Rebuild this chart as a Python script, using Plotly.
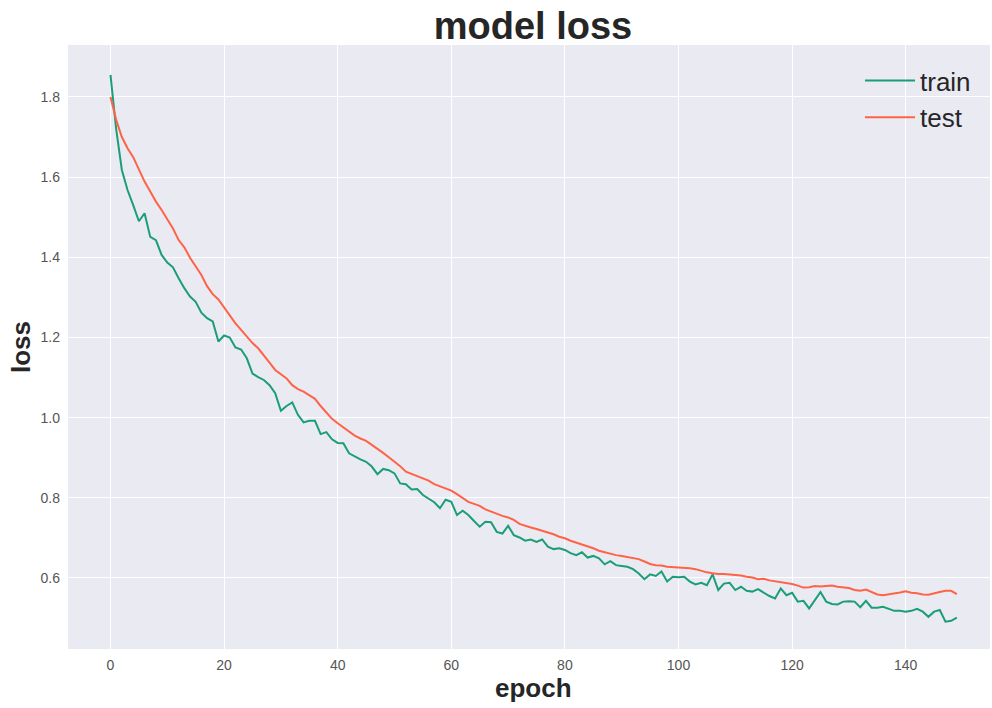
import plotly.graph_objects as go

epochs = list(range(150))

train_loss = [
    1.855, 1.720, 1.618, 1.568, 1.530, 1.490, 1.510, 1.451, 1.443, 1.406,
    1.387, 1.375, 1.348, 1.323, 1.302, 1.289, 1.262, 1.248, 1.240, 1.190,
    1.205, 1.200, 1.175, 1.170, 1.148, 1.110, 1.101, 1.094, 1.081, 1.061,
    1.017, 1.029, 1.038, 1.007, 0.988, 0.992, 0.992, 0.959, 0.964, 0.946,
    0.937, 0.936, 0.911, 0.903, 0.896, 0.890, 0.878, 0.859, 0.872, 0.869,
    0.861, 0.836, 0.834, 0.821, 0.822, 0.807, 0.797, 0.789, 0.774, 0.795,
    0.790, 0.757, 0.768, 0.757, 0.742, 0.728, 0.740, 0.739, 0.715, 0.711,
    0.730, 0.707, 0.701, 0.693, 0.696, 0.690, 0.696, 0.678, 0.672, 0.674,
    0.670, 0.662, 0.657, 0.664, 0.651, 0.655, 0.649, 0.634, 0.642, 0.632,
    0.630, 0.628, 0.622, 0.611, 0.597, 0.609, 0.605, 0.616, 0.591, 0.603,
    0.602, 0.603, 0.591, 0.584, 0.588, 0.582, 0.609, 0.570, 0.586, 0.588,
    0.570, 0.578, 0.568, 0.566, 0.572, 0.563, 0.555, 0.549, 0.574, 0.557,
    0.563, 0.541, 0.543, 0.524, 0.545, 0.565, 0.541, 0.535, 0.534, 0.541,
    0.542, 0.541, 0.527, 0.543, 0.526, 0.526, 0.528, 0.523, 0.518, 0.518,
    0.516, 0.518, 0.523, 0.516, 0.503, 0.516, 0.520, 0.491, 0.493, 0.501,
]

test_loss = [
    1.800, 1.743, 1.700, 1.672, 1.650, 1.618, 1.589, 1.564, 1.539, 1.518,
    1.495, 1.472, 1.443, 1.425, 1.399, 1.377, 1.356, 1.328, 1.308, 1.295,
    1.275, 1.256, 1.235, 1.219, 1.202, 1.186, 1.173, 1.156, 1.137, 1.119,
    1.108, 1.098, 1.081, 1.071, 1.065, 1.056, 1.047, 1.029, 1.012, 0.997,
    0.986, 0.976, 0.965, 0.955, 0.948, 0.942, 0.932, 0.923, 0.912, 0.901,
    0.890, 0.879, 0.865, 0.859, 0.853, 0.849, 0.843, 0.834, 0.829, 0.822,
    0.818, 0.809, 0.799, 0.790, 0.785, 0.780, 0.771, 0.765, 0.760, 0.755,
    0.751, 0.745, 0.735, 0.730, 0.726, 0.722, 0.718, 0.714, 0.709, 0.703,
    0.699, 0.693, 0.688, 0.684, 0.680, 0.674, 0.668, 0.664, 0.660, 0.657,
    0.655, 0.652, 0.650, 0.647, 0.641, 0.635, 0.632, 0.631, 0.628, 0.627,
    0.626, 0.626, 0.624, 0.622, 0.618, 0.614, 0.612, 0.610, 0.610, 0.609,
    0.608, 0.606, 0.603, 0.601, 0.597, 0.598, 0.594, 0.592, 0.589, 0.587,
    0.585, 0.581, 0.576, 0.577, 0.580, 0.579, 0.580, 0.581, 0.578, 0.576,
    0.575, 0.570, 0.568, 0.571, 0.565, 0.559, 0.557, 0.559, 0.562, 0.564,
    0.567, 0.563, 0.562, 0.559, 0.558, 0.562, 0.565, 0.568, 0.568, 0.560,
]

x_ticks = [0, 20, 40, 60, 80, 100, 120, 140]
y_ticks = [0.6, 0.8, 1.0, 1.2, 1.4, 1.6, 1.8]

TRAIN_COLOR = "#1b9e77"
TEST_COLOR = "#ff6347"
FONT = "Liberation Sans, Arial, sans-serif"
TEXT = "#262626"

fig = go.Figure()
fig.add_trace(go.Scatter(x=epochs, y=train_loss, mode="lines", name="train",
                         line=dict(color=TRAIN_COLOR, width=2)))
fig.add_trace(go.Scatter(x=epochs, y=test_loss, mode="lines", name="test",
                         line=dict(color=TEST_COLOR, width=2)))

fig.update_layout(
    width=992, height=708,
    margin=dict(l=68, r=2, t=45, b=59, autoexpand=False),
    paper_bgcolor="white",
    plot_bgcolor="#EAEAF2",
    font=dict(family=FONT, color=TEXT),
    title=dict(text="<b>model loss</b>", x=533/992, xref="container", xanchor="center",
               y=1 - 26/708, yref="container", yanchor="middle",
               font=dict(size=38, color=TEXT, family=FONT)),
    showlegend=True,
    legend=dict(x=(860-68)/922, y=1 - (57-45)/604, xanchor="left", yanchor="top",
                bgcolor="rgba(0,0,0,0)", font=dict(size=26, color=TEXT),
                itemwidth=50),
    annotations=[
        dict(text="<b>epoch</b>", x=(533-68)/922, y=-(688-649)/604, xref="paper", yref="paper",
             showarrow=False, font=dict(size=26, color=TEXT), xanchor="center",
             yanchor="middle"),
        dict(text="<b>loss</b>", x=0, y=0.5, xref="paper", yref="paper",
             showarrow=False, textangle=-90, font=dict(size=26, color=TEXT),
             xanchor="center", yanchor="middle", xshift=-47),
    ],
)

fig.update_xaxes(range=[-7.48, 154.84], tickmode="array", tickvals=x_ticks,
                 ticktext=[str(v) for v in x_ticks],
                 showgrid=True, gridcolor="white", gridwidth=1, zeroline=False,
                 showline=False, ticks="", ticklabelstandoff=6,
                 tickfont=dict(size=14, color="#555555", family=FONT))
fig.update_yaxes(range=[0.4228, 1.9297], tickmode="array", tickvals=y_ticks,
                 ticktext=[f"{v:.1f}" for v in y_ticks],
                 showgrid=True, gridcolor="white", gridwidth=1, zeroline=False,
                 showline=False, ticks="", ticklabelstandoff=7,
                 tickfont=dict(size=14, color="#555555", family=FONT))

fig.write_html("out.html", config={"displayModeBar": False},
               post_script="document.body.style.margin='0';document.body.style.overflow='hidden';")
